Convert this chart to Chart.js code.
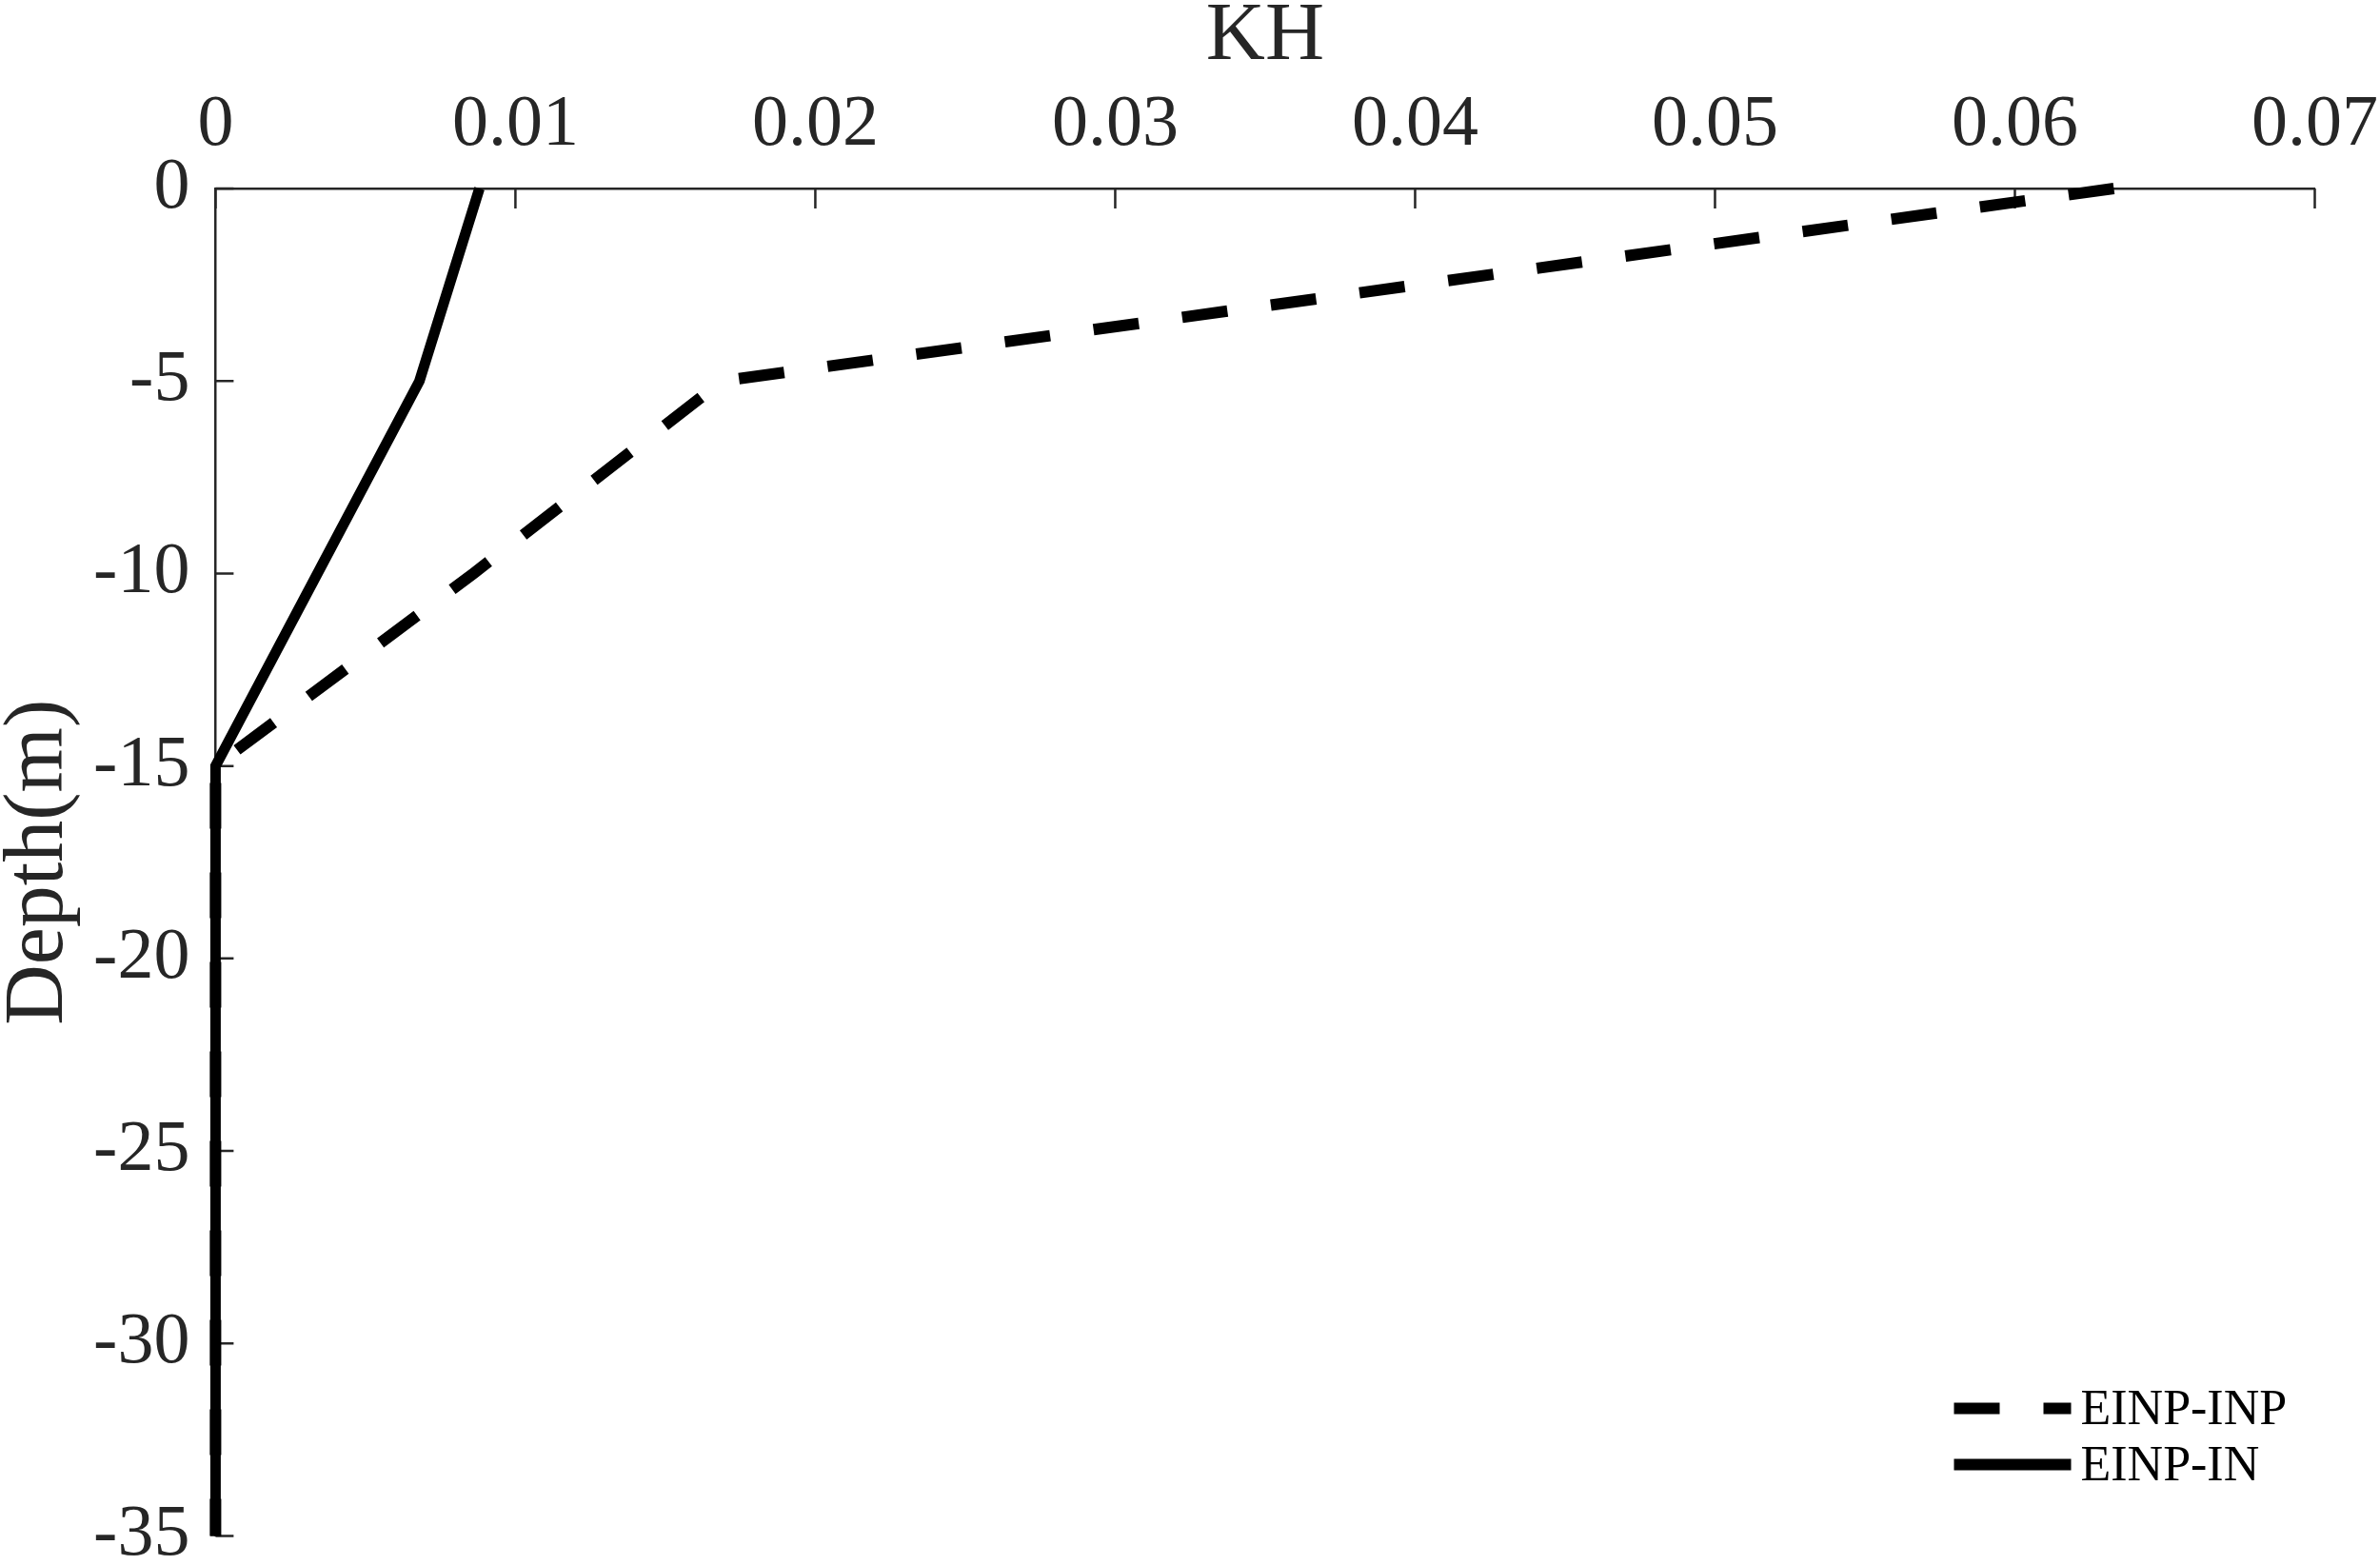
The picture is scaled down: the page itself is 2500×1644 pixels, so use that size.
<!DOCTYPE html>
<html>
<head>
<meta charset="utf-8">
<script src="https://cdn.jsdelivr.net/npm/chart.js@4.4.1/dist/chart.umd.min.js"></script>
<style>
  html, body { margin: 0; padding: 0; background: #fff; }
  #wrap { width: 2500px; height: 1644px; position: relative; }
</style>
</head>
<body>
<div id="wrap"><canvas id="kh"></canvas></div>
<script>
// depth (m) and KH
const depth = [0, -5, -10, -15, -35];
const khINP = [0.0633, 0.0169, 0.0086, 0, 0];
const khIN = [0.0088, 0.0068, 0.0034, 0, 0];
const seriesNames = ["EINP-INP", "EINP-IN"];

const xTicks = [0, 0.01, 0.02, 0.03, 0.04, 0.05, 0.06, 0.07];
const xTickLabels = ["0", "0.01", "0.02", "0.03", "0.04", "0.05", "0.06", "0.07"];
const yTicks = [0, -5, -10, -15, -20, -25, -30, -35];
const yTickLabels = ["0", "-5", "-10", "-15", "-20", "-25", "-30", "-35"];

const serif = "'Liberation Serif', 'Times New Roman', serif";
const axisColor = "#262626";

const pts = (xs) => xs.map((v, i) => ({ x: v, y: depth[i] }));

// ticks point into the plot, like the original
const innerTicks = {
  id: "innerTicks",
  beforeDatasetsDraw(chart) {
    const { ctx, chartArea, scales } = chart;
    ctx.save();
    ctx.strokeStyle = axisColor;
    ctx.lineWidth = 2.5;
    ctx.beginPath();
    xTicks.forEach((v) => {
      const px = scales.x.getPixelForValue(v);
      ctx.moveTo(px, chartArea.top);
      ctx.lineTo(px, chartArea.top + 21);
    });
    yTicks.forEach((v) => {
      const py = scales.y.getPixelForValue(v);
      ctx.moveTo(chartArea.left, py);
      ctx.lineTo(chartArea.left + 19, py);
    });
    ctx.stroke();
    ctx.restore();
  },
};

// legend box sits inside the plot, lower right
const cornerLegend = {
  id: "cornerLegend",
  afterDraw(chart) {
    const { ctx, chartArea } = chart;
    const x0 = chartArea.right - 379;
    const len = 123;
    ctx.save();
    chart.data.datasets.forEach((ds, i) => {
      const y = chartArea.bottom - 134 + i * 59;
      ctx.strokeStyle = ds.borderColor;
      ctx.lineWidth = 12;
      ctx.lineCap = "butt";
      ctx.setLineDash(ds.borderDash || []);
      ctx.beginPath();
      ctx.moveTo(x0, y);
      ctx.lineTo(x0 + len, y);
      ctx.stroke();
      ctx.setLineDash([]);
      ctx.fillStyle = "#000";
      ctx.font = "52px " + serif;
      ctx.textBaseline = "middle";
      ctx.textAlign = "left";
      ctx.fillText(ds.label, x0 + len + 10, y + 3);
    });
    ctx.restore();
  },
};

new Chart(document.getElementById("kh"), {
  type: "line",
  data: {
    datasets: [
      {
        label: seriesNames[0],
        data: pts(khINP),
        borderColor: "#000",
        borderWidth: 12,
        borderDash: [48, 46],
        borderCapStyle: "butt",
        borderJoinStyle: "miter",
        pointRadius: 0,
        tension: 0,
        clip: false,
      },
      {
        label: seriesNames[1],
        data: pts(khIN),
        borderColor: "#000",
        borderWidth: 11,
        borderCapStyle: "butt",
        borderJoinStyle: "miter",
        pointRadius: 0,
        tension: 0,
        clip: false,
      },
    ],
  },
  options: {
    responsive: true,
    maintainAspectRatio: false,
    animation: false,
    layout: { padding: { left: 0, top: 0, right: 68.5, bottom: 30.5 } },
    plugins: { legend: { display: false }, tooltip: { enabled: false } },
    scales: {
      x: {
        type: "linear",
        position: "top",
        min: 0,
        max: 0.07,
        afterBuildTicks: (s) => { s.ticks = xTicks.map((v) => ({ value: v })); },
        afterFit: (s) => {
          s.height = 198;
          s.paddingLeft = 0; s.paddingRight = 0;
        },
        ticks: {
          padding: 20,
          color: axisColor,
          font: { family: serif, size: 76 },
          maxRotation: 0,
          autoSkip: false,
          callback: (v, i) => xTickLabels[i],
        },
        grid: { drawOnChartArea: false, drawTicks: false },
        border: { display: true, color: axisColor, width: 2.5 },
        title: {
          display: true,
          text: "KH",
          color: axisColor,
          font: { family: serif, size: 86, lineHeight: 0.72 },
          padding: { top: 8, bottom: 0 },
        },
      },
      y: {
        type: "linear",
        min: -35,
        max: 0,
        afterBuildTicks: (s) => { s.ticks = yTicks.map((v) => ({ value: v })); },
        afterFit: (s) => {
          s.width = 226.4;
          s.paddingTop = 0; s.paddingBottom = 0;
        },
        ticks: {
          padding: 27,
          color: axisColor,
          font: { family: serif, size: 76 },
          autoSkip: false,
          callback: (v, i) => yTickLabels[i],
        },
        grid: { drawOnChartArea: false, drawTicks: false },
        border: { display: true, color: axisColor, width: 2.5 },
        title: {
          display: true,
          text: "Depth(m)",
          color: axisColor,
          font: { family: serif, size: 88, lineHeight: 1 },
          padding: { top: -2, bottom: 0 },
        },
      },
    },
  },
  plugins: [innerTicks, cornerLegend],
});
</script>
</body>
</html>
